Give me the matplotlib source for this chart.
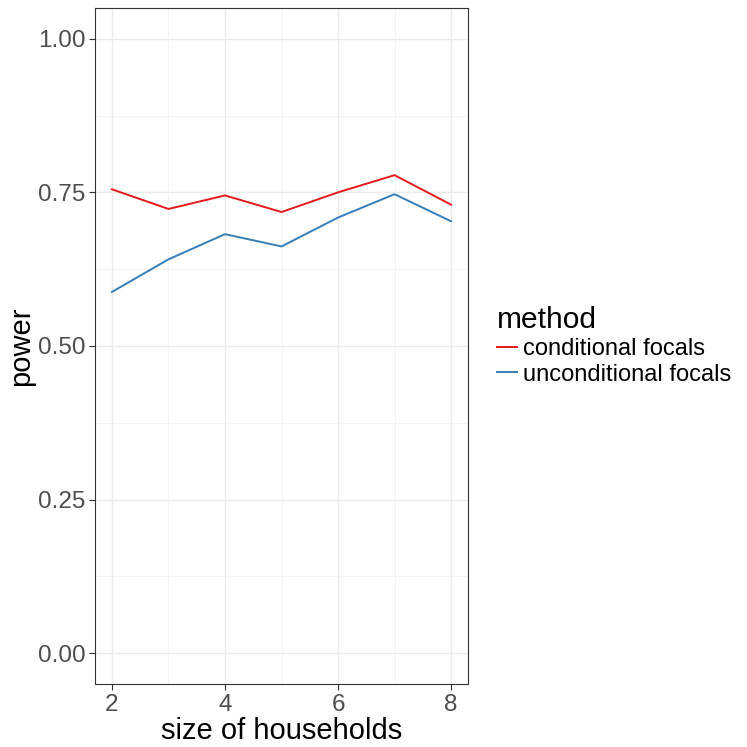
import matplotlib
matplotlib.use("Agg")
import matplotlib.pyplot as plt
from matplotlib.lines import Line2D

plt.rcParams['font.family'] = ['Liberation Sans', 'DejaVu Sans']

# data
household_size = [2, 3, 4, 5, 6, 7, 8]
power_conditional = [0.755, 0.723, 0.745, 0.718, 0.750, 0.778, 0.730]
power_unconditional = [0.588, 0.641, 0.682, 0.662, 0.709, 0.747, 0.703]
method_labels = ["conditional focals", "unconditional focals"]
y_ticks = [0.0, 0.25, 0.5, 0.75, 1.0]
y_minor = [0.125, 0.375, 0.625, 0.875]
x_ticks = [2, 4, 6, 8]
x_minor = [3, 5, 7]

red = "#E41A1C"
blue = "#377EB8"

fig = plt.figure(figsize=(7.47, 7.47), dpi=100)
ax = fig.add_axes([95 / 747, 1 - 684 / 747, (468 - 95) / 747, (684 - 8) / 747])

for v in y_ticks:
    ax.axhline(v, color="#EBEBEB", lw=1.0, zorder=0)
for v in y_minor:
    ax.axhline(v, color="#F3F3F3", lw=0.6, zorder=0)
for v in x_ticks:
    ax.axvline(v, color="#EBEBEB", lw=1.0, zorder=0)
for v in x_minor:
    ax.axvline(v, color="#F3F3F3", lw=0.6, zorder=0)

ax.plot(household_size, power_conditional, color=red, lw=1.4)
ax.plot(household_size, power_unconditional, color=blue, lw=1.4)

ax.set_xlim(1.7, 8.3)
ax.set_ylim(-0.05, 1.05)
ax.set_xticks(x_ticks)
ax.set_yticks(y_ticks)
ax.set_xticklabels([str(t) for t in x_ticks])
ax.set_yticklabels(["%.2f" % t for t in y_ticks])
ax.tick_params(length=4, width=0.8, color="#333333", labelcolor="#4D4D4D",
               labelsize=17.5, pad=3)
for s in ax.spines.values():
    s.set_color("#333333")
    s.set_linewidth(0.8)

ax.set_xlabel("size of households", fontsize=21, labelpad=1)
ax.set_ylabel("power", fontsize=21, labelpad=2)

handles = [Line2D([], [], color=red, lw=1.4), Line2D([], [], color=blue, lw=1.4)]
leg = fig.legend(handles, method_labels, title="method", loc="center left",
                 bbox_to_anchor=(497 / 747, 1 - 346 / 747), frameon=False,
                 fontsize=17, title_fontsize=21.5, handlelength=0.85,
                 handletextpad=0.25, labelspacing=0.15, borderpad=0,
                 borderaxespad=0)
leg._legend_box.align = "left"

fig.savefig("out.png", dpi=100)
